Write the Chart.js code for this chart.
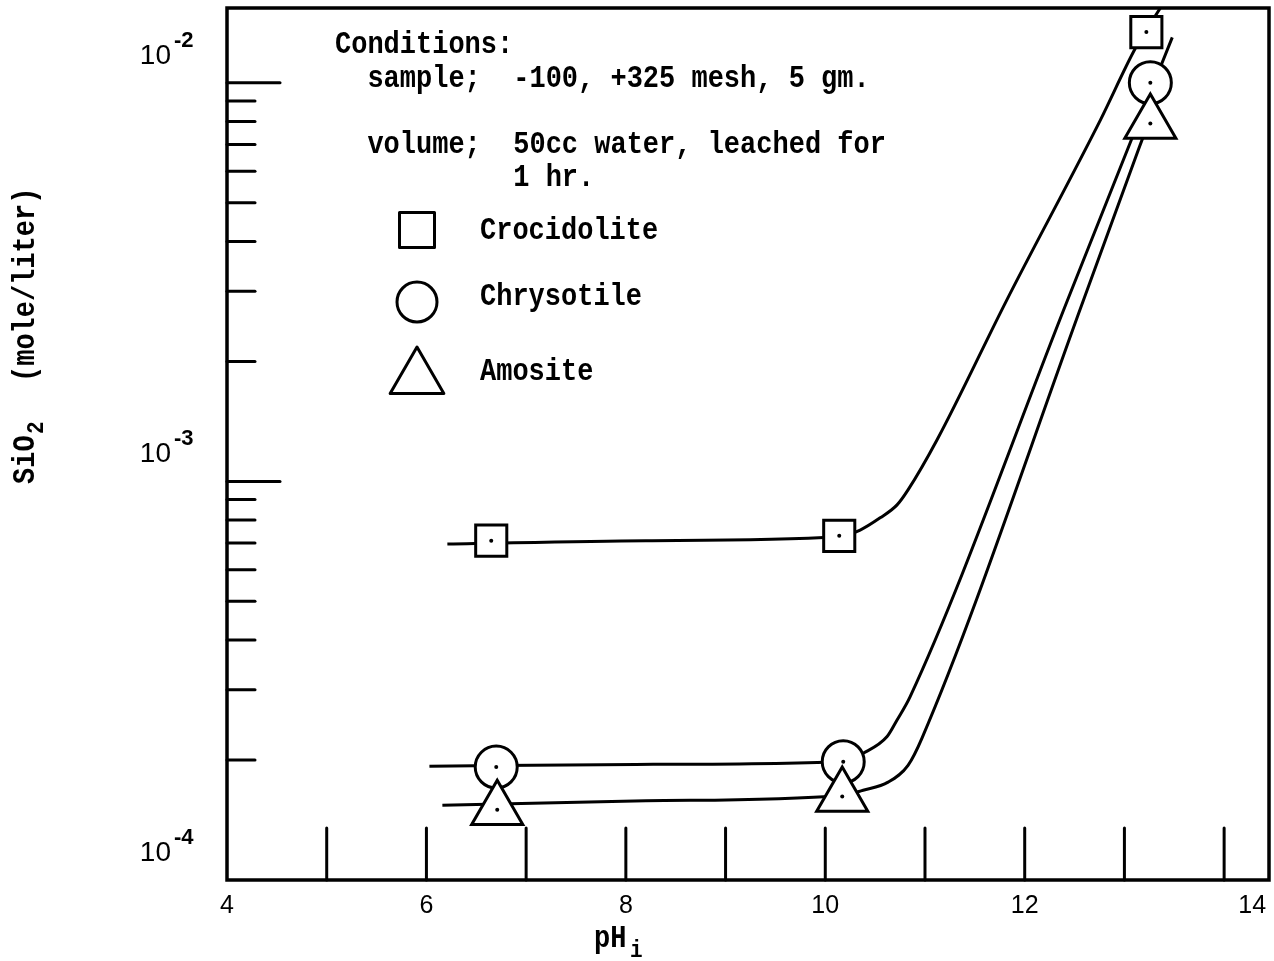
<!DOCTYPE html>
<html>
<head>
<meta charset="utf-8">
<script src="https://cdn.jsdelivr.net/npm/chart.js@4.4.1/dist/chart.umd.min.js"></script>
<style>
  body { margin: 0; background: #fff; }
  #wrap { width: 1274px; height: 961px; position: relative; }
</style>
</head>
<body>
<div id="wrap"><canvas id="leachChart"></canvas></div>
<script>
// measured points (pH, SiO2 mole/liter)
const phCroc = [6.65, 10.14, 13.22];
const siCroc = [7.1e-4, 7.3e-4, 1.34e-2];
const phChrys = [6.70, 10.18, 13.26];
const siChrys = [1.92e-4, 1.98e-4, 1.0e-2];
const phAmos = [6.71, 10.17, 13.26];
const siAmos = [1.50e-4, 1.62e-4, 7.9e-3];

// hand drawn fit curves
const fitPhCroc = [6.21, 8.2, 10.13, 10.35, 10.55, 10.72, 10.83, 11.12, 11.82, 12.76, 13.11, 13.36];
const fitSiCroc = [6.96e-4, 7.1e-4, 7.26e-4, 7.55e-4, 8.10e-4, 8.73e-4, 9.52e-4, 1.27e-3, 2.85e-3, 8.07e-3, 1.22e-2, 1.54e-2];
const fitPhChrys = [6.03, 8.1, 10.18, 10.38, 10.62, 10.72, 10.85, 12.43, 13.03, 13.48];
const fitSiChrys = [1.93e-4, 1.95e-4, 1.98e-4, 2.08e-4, 2.29e-4, 2.52e-4, 2.88e-4, 2.85e-3, 6.79e-3, 1.30e-2];
const fitPhAmos = [6.16, 8.2, 10.17, 10.38, 10.63, 10.83, 10.97, 12.59, 13.14, 13.26];
const fitSiAmos = [1.54e-4, 1.58e-4, 1.63e-4, 1.68e-4, 1.76e-4, 1.94e-4, 2.27e-4, 2.85e-3, 6.79e-3, 8.17e-3];

const names = ['Crocidolite', 'Chrysotile', 'Amosite'];
const xTickValues = [5, 6, 7, 8, 9, 10, 11, 12, 13, 14];
const xTickLabels = [4, 6, 8, 10, 12, 14];
const yDecades = [1e-4, 1e-3, 1e-2];
const yDecadeExp = ['-4', '-3', '-2'];
const yMinorSteps = [2, 3, 4, 5, 6, 7, 8, 9];
const conditionLines = [
  'Conditions:',
  '  sample;  -100, +325 mesh, 5 gm.',
  '  volume;  50cc water, leached for',
  '           1 hr.'
];

const typeFont = 'bold 27px "Liberation Mono", "Courier New", monospace';
const subFont = 'bold 21px "Liberation Mono", monospace';
const numFont = '"Liberation Sans", "DejaVu Sans", sans-serif';

function toPoints(xs, ys) {
  return xs.map((v, i) => ({ x: v, y: ys[i] }));
}

function markerSet(label, xs, ys, style, radius, order) {
  return {
    label: label,
    data: toPoints(xs, ys),
    showLine: false,
    pointStyle: style,
    pointRadius: radius,
    pointHoverRadius: radius,
    pointBorderWidth: 3,
    pointBorderColor: '#000',
    pointBackgroundColor: '#fff',
    order: order,
    isMarker: true
  };
}

function curveSet(xs, ys) {
  return {
    data: toPoints(xs, ys),
    borderColor: '#000',
    borderWidth: 3,
    pointRadius: 0,
    cubicInterpolationMode: 'monotone',
    fill: false,
    order: 10
  };
}

function line(ctx, x1, y1, x2, y2) {
  ctx.beginPath();
  ctx.moveTo(x1, y1);
  ctx.lineTo(x2, y2);
  ctx.stroke();
}

// typewriter text is a bit taller than Liberation Mono
function typeText(ctx, t, x, y, font) {
  ctx.save();
  ctx.font = font || typeFont;
  ctx.translate(x, y);
  ctx.scale(1, 1.18);
  ctx.fillText(t, 0, 0);
  ctx.restore();
}

function drawMark(ctx, style, cx, cy, r) {
  ctx.beginPath();
  if (style === 'rect') {
    ctx.rect(cx - r, cy - r, 2 * r, 2 * r);
  } else if (style === 'circle') {
    ctx.arc(cx, cy, r, 0, Math.PI * 2);
  } else {
    ctx.moveTo(cx, cy - r);
    ctx.lineTo(cx + r * 0.866, cy + r / 2);
    ctx.lineTo(cx - r * 0.866, cy + r / 2);
    ctx.closePath();
  }
  ctx.fillStyle = '#fff';
  ctx.fill();
  ctx.stroke();
}

const paperPlugin = {
  id: 'paper',
  afterDatasetsDraw(chart) {
    const ctx = chart.ctx;
    ctx.save();
    ctx.fillStyle = '#000';
    chart.data.datasets.forEach((ds, i) => {
      if (!ds.isMarker) return;
      chart.getDatasetMeta(i).data.forEach(pt => {
        ctx.beginPath();
        ctx.arc(pt.x, pt.y, 2, 0, Math.PI * 2);
        ctx.fill();
      });
    });
    ctx.restore();
  },
  afterDraw(chart) {
    const ctx = chart.ctx;
    const a = chart.chartArea;
    const xs = chart.scales.x;
    const ys = chart.scales.y;
    ctx.save();
    ctx.strokeStyle = '#000';
    ctx.fillStyle = '#000';

    // frame
    ctx.lineWidth = 3.5;
    ctx.strokeRect(a.left, a.top, a.right - a.left, a.bottom - a.top);

    // inward ticks
    ctx.lineWidth = 3;
    ctx.lineCap = 'round';
    xTickValues.forEach(v => {
      const px = xs.getPixelForValue(v);
      line(ctx, px, a.bottom, px, a.bottom - 52);
    });
    yDecades.forEach(d => {
      const py = ys.getPixelForValue(d);
      if (d > ys.min) line(ctx, a.left, py, a.left + 53, py);
      yMinorSteps.forEach(m => {
        const v = d * m;
        if (v >= ys.max) return;
        const p = ys.getPixelForValue(v);
        line(ctx, a.left, p, a.left + 28, p);
      });
    });

    // x tick labels
    ctx.font = '25px ' + numFont;
    ctx.textAlign = 'center';
    ctx.textBaseline = 'middle';
    xTickLabels.forEach((v, i) => {
      let px = xs.getPixelForValue(v);
      if (i === xTickLabels.length - 1) px += 28;
      ctx.fillText(String(v), px, 906);
    });

    // y decade labels
    yDecades.forEach((d, i) => {
      const py = ys.getPixelForValue(d);
      ctx.textBaseline = 'alphabetic';
      ctx.textAlign = 'right';
      ctx.font = '28px ' + numFont;
      ctx.fillText('10', 171, py - 19);
      ctx.textAlign = 'left';
      ctx.font = 'bold 22px ' + numFont;
      ctx.fillText(yDecadeExp[i], 174, py - 36);
    });

    // axis titles
    ctx.textAlign = 'left';
    ctx.textBaseline = 'alphabetic';
    typeText(ctx, 'pH', 594, 947);
    typeText(ctx, 'i', 630, 957, subFont);

    ctx.save();
    ctx.translate(34, 484);
    ctx.rotate(-Math.PI / 2);
    typeText(ctx, 'SiO', 0, 0);
    typeText(ctx, '2', 50, 9, subFont);
    typeText(ctx, '(mole/liter)', 102, 0);
    ctx.restore();

    // conditions text
    const condY = [53, 87, 153, 186];
    conditionLines.forEach((t, i) => typeText(ctx, t, 335, condY[i]));

    // legend
    const legStyles = ['rect', 'circle', 'triangle'];
    const legSizes = [17.5, 20, 31];
    const legMarkY = [230, 302, 378];
    const legTextY = [239, 305, 380];
    ctx.lineWidth = 3;
    ctx.lineJoin = 'round';
    names.forEach((n, i) => {
      drawMark(ctx, legStyles[i], 417, legMarkY[i], legSizes[i]);
      ctx.fillStyle = '#000';
      typeText(ctx, n, 480, legTextY[i]);
    });
    ctx.restore();
  }
};

const ctx = document.getElementById('leachChart').getContext('2d');
new Chart(ctx, {
  type: 'line',
  data: {
    datasets: [
      curveSet(fitPhCroc, fitSiCroc),
      curveSet(fitPhChrys, fitSiChrys),
      curveSet(fitPhAmos, fitSiAmos),
      markerSet(names[0], phCroc, siCroc, 'rect', 22, 3),
      markerSet(names[1], phChrys, siChrys, 'circle', 21, 2),
      markerSet(names[2], phAmos, siAmos, 'triangle', 29.5, 1)
    ]
  },
  options: {
    responsive: true,
    maintainAspectRatio: false,
    animation: false,
    events: [],
    layout: { autoPadding: false, padding: { left: 227, right: 5, top: 8, bottom: 81 } },
    scales: {
      x: { type: 'linear', min: 4, max: 14.45, display: false },
      y: { type: 'logarithmic', min: 1e-4, max: 0.0154, display: false }
    },
    plugins: {
      legend: { display: false },
      tooltip: { enabled: false }
    }
  },
  plugins: [paperPlugin]
});
</script>
</body>
</html>
